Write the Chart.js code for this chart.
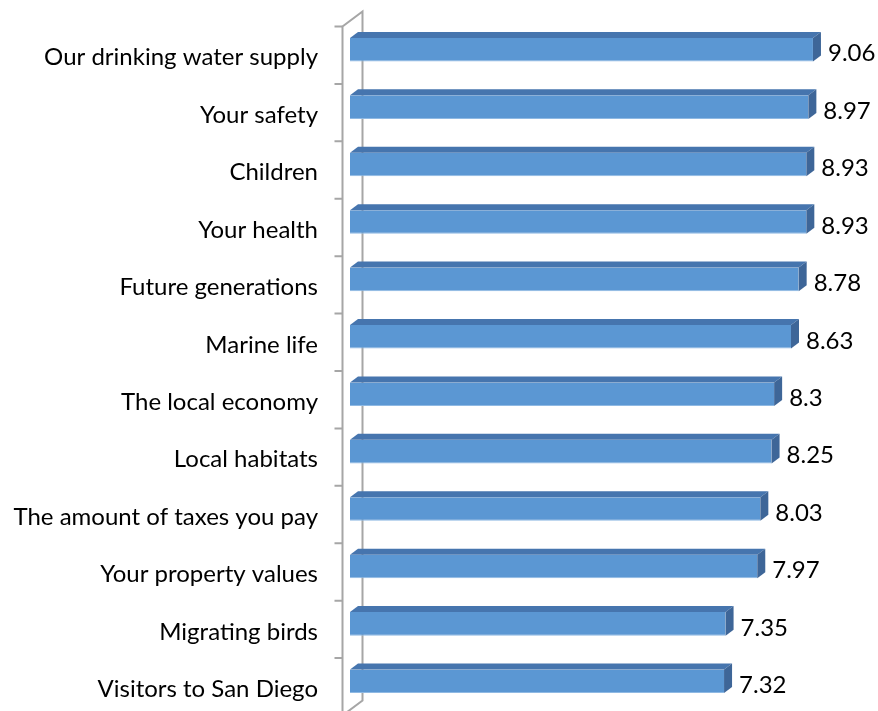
<!DOCTYPE html>
<html>
<head>
<meta charset="utf-8">
<script src="https://cdn.jsdelivr.net/npm/chart.js@4.4.1/dist/chart.umd.min.js"></script>
<style>
  html, body { margin: 0; padding: 0; background: #fff; }
  #wrap { width: 878px; height: 711px; position: relative; }
</style>
</head>
<body>
<div id="wrap"><canvas id="concernChart"></canvas></div>
<script>
const categories = [
    'Our drinking water supply',
    'Your safety',
    'Children',
    'Your health',
    'Future generations',
    'Marine life',
    'The local economy',
    'Local habitats',
    'The amount of taxes you pay',
    'Your property values',
    'Migrating birds',
    'Visitors to San Diego'
];
const scores = [9.06, 8.97, 8.93, 8.93, 8.78, 8.63, 8.3, 8.25, 8.03, 7.97, 7.35, 7.32];

const FONT = 'Lato, "Open Sans", sans-serif';

// draws the back wall / axis, then the top and side faces of each bar plus value labels
const bars3d = {
    id: 'bars3d',
    beforeDatasetsDraw(chart) {
        const ctx = chart.ctx;
        const yScale = chart.scales.y;
        const area = chart.chartArea;
        const step = yScale.getPixelForValue(1) - yScale.getPixelForValue(0);
        const fx = area.left - 7.5;     // front plane of the wall
        const sy = 5.5;                 // front plane sits lower than the bars
        const wx = 20, wy = 15;         // wall depth
        const top = yScale.getPixelForValue(0) - step / 2 + sy;
        const bottom = yScale.getPixelForValue(categories.length - 1) + step / 2 + sy;

        ctx.save();
        ctx.strokeStyle = '#a6a6a6';
        ctx.lineWidth = 2;
        ctx.beginPath();
        ctx.moveTo(fx, bottom);
        ctx.lineTo(fx, top);
        ctx.lineTo(fx + wx, top - wy);
        ctx.lineTo(fx + wx, bottom - wy);
        ctx.lineTo(fx, bottom);
        ctx.stroke();
        ctx.beginPath();
        for (let i = 0; i <= categories.length; i++) {
            const ty = top + i * step;
            ctx.moveTo(fx - 8, ty);
            ctx.lineTo(fx, ty);
        }
        ctx.stroke();
        ctx.restore();
    },
    afterDatasetsDraw(chart) {
        const ctx = chart.ctx;
        const meta = chart.getDatasetMeta(0);
        const dx = 8, dy = 6;
        ctx.save();
        meta.data.forEach((bar, i) => {
            const p = bar.getProps(['x', 'y', 'base', 'height'], true);
            const t = p.y - p.height / 2;
            const b = p.y + p.height / 2;

            ctx.fillStyle = '#4675ae';
            ctx.beginPath();
            ctx.moveTo(p.base, t);
            ctx.lineTo(p.base + dx, t - dy);
            ctx.lineTo(p.x + dx, t - dy);
            ctx.lineTo(p.x, t);
            ctx.closePath();
            ctx.fill();

            ctx.fillStyle = '#3e6698';
            ctx.beginPath();
            ctx.moveTo(p.x, t);
            ctx.lineTo(p.x + dx, t - dy);
            ctx.lineTo(p.x + dx, b - dy);
            ctx.lineTo(p.x, b);
            ctx.closePath();
            ctx.fill();

            ctx.fillStyle = '#000';
            ctx.font = '24px ' + FONT;
            ctx.textAlign = 'left';
            ctx.textBaseline = 'middle';
            ctx.fillText(String(scores[i]), p.x + dx + 7, p.y + 4);
        });
        ctx.restore();
    }
};

const ctx = document.getElementById('concernChart').getContext('2d');
const concernChart = new Chart(ctx, {
    type: 'bar',
    data: {
        labels: categories,
        datasets: [{
            data: scores,
            backgroundColor: '#5b97d3',
            borderColor: '#8fb9e3',
            borderWidth: { bottom: 1, top: 0, left: 0, right: 0 },
            borderSkipped: false,
            categoryPercentage: 1,
            barPercentage: 0.41
        }]
    },
    options: {
        indexAxis: 'y',
        responsive: true,
        maintainAspectRatio: false,
        animation: false,
        layout: {
            padding: { left: 0, right: 17, top: 21, bottom: 1 }
        },
        plugins: {
            legend: { display: false },
            tooltip: { enabled: false }
        },
        scales: {
            x: {
                display: false,
                min: 0,
                max: 10
            },
            y: {
                afterFit(scale) {
                    scale.width = 350;
                    // label padding should only push labels sideways
                    scale.paddingTop = 0;
                    scale.paddingBottom = 0;
                },
                grid: { display: false, drawTicks: false },
                border: { display: false },
                ticks: {
                    color: '#000',
                    padding: 32,
                    labelOffset: 8,
                    font: { family: FONT, size: 24 }
                }
            }
        }
    },
    plugins: [bars3d]
});
</script>
</body>
</html>
